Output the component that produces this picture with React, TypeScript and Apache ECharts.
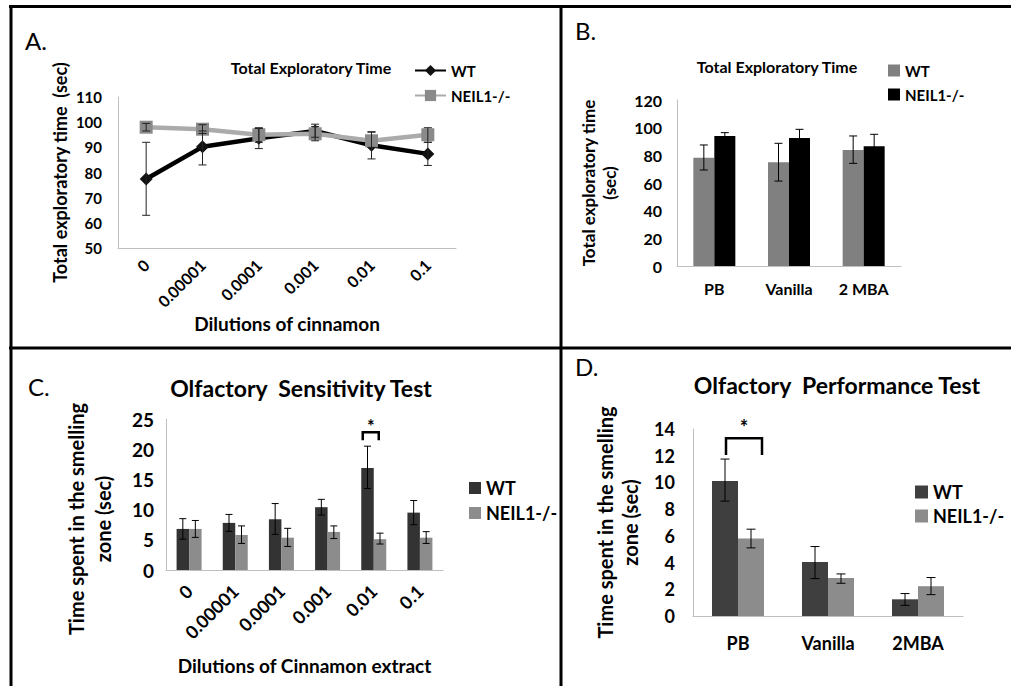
import React, { useEffect, useRef } from 'react';
import * as echarts from 'echarts';

const FONT = 'Lato';

// ---- Panel A: Total Exploratory Time (line) ----
const catsA = ['0', '0.00001', '0.0001', '0.001', '0.01', '0.1'];
const wtA = [77.4, 90.2, 93.6, 96.5, 90.8, 87.4];
const wtALow = [63, 83, 89.5, 94, 85.4, 82.8];
const wtAHigh = [92, 96.5, 97.5, 99.2, 96.2, 92];
const neilA = [98, 97.2, 95, 95.4, 92.6, 95];
const neilALow = [96.5, 95.5, 92, 92.6, 90, 92];
const neilAHigh = [99.5, 99, 97.8, 98.3, 96, 97.8];

// ---- Panel B: Total Exploratory Time (bars) ----
const catsB = ['PB', 'Vanilla', '2 MBA'];
const wtB = [78.3, 75, 83.9];
const wtBLow = [69.4, 61.4, 74.2];
const wtBHigh = [87.5, 88.7, 94];
const neilB = [94, 92.6, 86.6];
const neilBLow = [91.6, 86.4, 78];
const neilBHigh = [96.4, 98.8, 95.2];

// ---- Panel C: Olfactory Sensitivity Test ----
const catsC = ['0', '0.00001', '0.0001', '0.001', '0.01', '0.1'];
const wtC = [6.8, 7.8, 8.4, 10.4, 16.9, 9.5];
const wtCLow = [5.1, 6.4, 5.9, 9.1, 13.5, 7.5];
const wtCHigh = [8.5, 9.2, 11, 11.7, 20.5, 11.5];
const neilC = [6.8, 5.8, 5.35, 6.3, 5.1, 5.35];
const neilCLow = [5.4, 4.4, 3.9, 5.2, 4.3, 4.4];
const neilCHigh = [8.2, 7.3, 6.9, 7.3, 6.1, 6.35];
const bracketC = [[4, 22.8, 21.5, 23.8]]; // [category, top, bottom, star]

// ---- Panel D: Olfactory Performance Test ----
const catsD = ['PB', 'Vanilla', '2MBA'];
const wtD = [10.1, 4.05, 1.25];
const wtDLow = [8.6, 2.8, 0.8];
const wtDHigh = [11.75, 5.2, 1.68];
const neilD = [5.8, 2.85, 2.23];
const neilDLow = [5.1, 2.45, 1.6];
const neilDHigh = [6.5, 3.15, 2.88];
const bracketD = [[0, 13.3, 12.05, 14.15]];

const errData = (lo: number[], hi: number[]) => lo.map((l, i) => [i, l, hi[i]]);

function errSeries(name: string, gi: number, lo: number[], hi: number[], offset: number, cap: number, color = '#000') {
  return {
    type: 'custom',
    name,
    xAxisIndex: gi,
    yAxisIndex: gi,
    z: 5,
    encode: { x: 0, y: [1, 2] },
    data: errData(lo, hi),
    renderItem: (params: any, api: any) => {
      const c = api.value(0);
      const a = api.coord([c, api.value(1)]);
      const b = api.coord([c, api.value(2)]);
      const x = a[0] + offset;
      const st = { stroke: color, lineWidth: 1 };
      return {
        type: 'group',
        children: [
          { type: 'line', shape: { x1: x, y1: a[1], x2: x, y2: b[1] }, style: st },
          { type: 'line', shape: { x1: x - cap / 2, y1: a[1], x2: x + cap / 2, y2: a[1] }, style: st },
          { type: 'line', shape: { x1: x - cap / 2, y1: b[1], x2: x + cap / 2, y2: b[1] }, style: st },
        ],
      };
    },
  };
}

function bracketSeries(gi: number, data: number[][], lOff: number, rOff: number, starSize: number) {
  return {
    type: 'custom',
    name: 'sig' + gi,
    xAxisIndex: gi,
    yAxisIndex: gi,
    z: 6,
    encode: { x: 0, y: [1, 2, 3] },
    data,
    renderItem: (params: any, api: any) => {
      const c = api.value(0);
      const t = api.coord([c, api.value(1)]);
      const bt = api.coord([c, api.value(2)]);
      const s = api.coord([c, api.value(3)]);
      const xl = t[0] + lOff;
      const xr = t[0] + rOff;
      return {
        type: 'group',
        children: [
          {
            type: 'polyline',
            shape: { points: [[xl, bt[1]], [xl, t[1]], [xr, t[1]], [xr, bt[1]]] },
            style: { stroke: '#000', lineWidth: 2.5, fill: null },
          },
          {
            type: 'text',
            style: {
              text: '*', x: (xl + xr) / 2, y: s[1], align: 'center', verticalAlign: 'middle',
              font: `bold ${starSize}px ${FONT}`, fill: '#000',
            },
          },
        ],
      };
    },
  };
}

const strip = (n: string) => n.split('#')[0];

export default function App() {
  const ref = useRef<HTMLDivElement>(null);
  useEffect(() => {
    const chart = echarts.init(ref.current!, undefined, { renderer: 'svg' });
    const axisLine = { show: true, lineStyle: { color: '#bfbfbf', width: 1 } };
    const yAx = (gi: number, min: number, max: number, interval: number, fs: number, margin: number, name: string, nameGap: number, nfs: number, lh: number) => ({
      type: 'value', gridIndex: gi, min, max, interval,
      splitLine: { show: false }, axisLine, axisTick: { show: false },
      axisLabel: { color: '#000', fontWeight: 'bold', fontSize: fs, fontFamily: FONT, margin },
      name, nameLocation: 'middle', nameRotate: 90, nameGap,
      nameTextStyle: { color: '#000', fontWeight: 'bold', fontSize: nfs, fontFamily: FONT, lineHeight: lh },
    });
    const xAx = (gi: number, data: string[], fs: number, rotate: number, margin: number, name = '', nameGap = 0, nfs = 18) => ({
      type: 'category', gridIndex: gi, data,
      axisLine, axisTick: { show: false },
      axisLabel: { color: '#000', fontWeight: 'bold', fontSize: fs, fontFamily: FONT, rotate, margin, interval: 0 },
      name, nameLocation: 'middle', nameGap,
      nameTextStyle: { color: '#000', fontWeight: 'bold', fontSize: nfs, fontFamily: FONT },
    });
    const legendText = (fs: number) => ({ color: '#000', fontWeight: 'bold', fontSize: fs, fontFamily: FONT });
    const titleStyle = (fs: number) => ({ fontSize: fs, fontWeight: 'bold', color: '#000', fontFamily: FONT });

    const option: any = {
      animation: false,
      backgroundColor: '#fff',
      textStyle: { fontFamily: FONT },
      title: [
        { text: 'Total Exploratory Time', left: 306, top: 54, textAlign: 'center', textStyle: titleStyle(16) },
        { text: 'Total Exploratory Time', left: 772, top: 53, textAlign: 'center', textStyle: titleStyle(16) },
        { text: 'Olfactory  Sensitivity Test', left: 296, top: 371, textAlign: 'center', textStyle: titleStyle(23) },
        { text: 'Olfactory  Performance Test', left: 832, top: 368, textAlign: 'center', textStyle: titleStyle(23) },
      ],
      legend: [
        { orient: 'vertical', left: 409, top: 58, selectedMode: false, itemWidth: 31, itemHeight: 14, itemGap: 10, textStyle: legendText(15), formatter: strip, data: ['WT#A', 'NEIL1-/-#A'] },
        { orient: 'vertical', left: 883, top: 58, selectedMode: false, icon: 'rect', itemWidth: 12, itemHeight: 12, itemGap: 9, textStyle: legendText(15), formatter: strip, data: ['WT#B', 'NEIL1-/-#B'] },
        { orient: 'vertical', left: 464, top: 474, selectedMode: false, icon: 'rect', itemWidth: 12, itemHeight: 12, itemGap: 7, textStyle: legendText(18), formatter: strip, data: ['WT#C', 'NEIL1-/-#C'] },
        { orient: 'vertical', left: 910, top: 478, selectedMode: false, icon: 'rect', itemWidth: 13, itemHeight: 13, itemGap: 6, textStyle: legendText(18), formatter: strip, data: ['WT#D', 'NEIL1-/-#D'] },
      ],
      grid: [
        { left: 118, top: 97, width: 338, height: 151 },
        { left: 677, top: 100, width: 224, height: 166 },
        { left: 166, top: 419, width: 277, height: 151 },
        { left: 693, top: 429, width: 270, height: 187 },
      ],
      xAxis: [
        xAx(0, catsA, 16, 45, 14, 'Dilutions of cinnamon', 66, 19),
        xAx(1, catsB, 16, 0, 14),
        xAx(2, catsC, 18, 45, 18, 'Dilutions of Cinnamon extract', 86, 19),
        xAx(3, catsD, 18, 0, 18),
      ],
      yAxis: [
        yAx(0, 50, 110, 10, 15, 16, 'Total exploratory time  (sec)', 47, 18, 22),
        yAx(1, 0, 120, 20, 16, 15, 'Total exploratory time\n(sec)', 57, 17, 21),
        yAx(2, 0, 25, 5, 19, 12, '', 0, 20, 27),
        yAx(3, 0, 14, 2, 18, 18, 'Time spent in the smelling\nzone (sec)', 51, 20, 25),
      ],
      graphic: [
        { type: 'line', shape: { x1: 9, y1: 6.5, x2: 1011, y2: 6.5 }, style: { stroke: '#000', lineWidth: 3 } },
        { type: 'line', shape: { x1: 11, y1: 5, x2: 11, y2: 686 }, style: { stroke: '#000', lineWidth: 3 } },
        { type: 'line', shape: { x1: 561, y1: 5, x2: 561, y2: 686 }, style: { stroke: '#000', lineWidth: 3 } },
        { type: 'line', shape: { x1: 9, y1: 348, x2: 1011, y2: 348 }, style: { stroke: '#000', lineWidth: 3 } },
        { type: 'text', left: 25, top: 28, style: { text: 'A.', font: `24px ${FONT}`, fill: '#000' } },
        { type: 'text', left: 575, top: 18, style: { text: 'B.', font: `24px ${FONT}`, fill: '#000' } },
        { type: 'text', left: 28, top: 374, style: { text: 'C.', font: `24px ${FONT}`, fill: '#000' } },
        { type: 'text', left: 575, top: 354, style: { text: 'D.', font: `24px ${FONT}`, fill: '#000' } },
        {
          type: 'text', x: 89, y: 519, rotation: Math.PI / 2,
          style: {
            text: 'Time spent in the smelling\nzone (sec)', x: 0, y: 0, align: 'center', verticalAlign: 'middle',
            font: `bold 20px ${FONT}`, lineHeight: 27, fill: '#000',
          },
        },
      ],
      series: [
        // A
        { type: 'line', name: 'WT#A', xAxisIndex: 0, yAxisIndex: 0, data: wtA, symbol: 'diamond', symbolSize: 13, itemStyle: { color: '#111' }, lineStyle: { color: '#000', width: 4.5 }, z: 3 },
        { type: 'line', name: 'NEIL1-/-#A', xAxisIndex: 0, yAxisIndex: 0, data: neilA, symbol: 'rect', symbolSize: 13, itemStyle: { color: '#8a8a8a' }, lineStyle: { color: '#ababab', width: 4.5 }, z: 4 },
        errSeries('eWT#A', 0, wtALow, wtAHigh, 0, 8, '#222'),
        errSeries('eN#A', 0, neilALow, neilAHigh, 0, 8, '#222'),
        // B
        { type: 'bar', name: 'WT#B', xAxisIndex: 1, yAxisIndex: 1, data: wtB, barWidth: 21, barGap: '0%', itemStyle: { color: '#808080' } },
        { type: 'bar', name: 'NEIL1-/-#B', xAxisIndex: 1, yAxisIndex: 1, data: neilB, barWidth: 21, barGap: '0%', itemStyle: { color: '#000' } },
        errSeries('eWT#B', 1, wtBLow, wtBHigh, -10.5, 8),
        errSeries('eN#B', 1, neilBLow, neilBHigh, 10.5, 8),
        // C
        { type: 'bar', name: 'WT#C', xAxisIndex: 2, yAxisIndex: 2, data: wtC, barWidth: 12.5, barGap: '0%', itemStyle: { color: '#333333' } },
        { type: 'bar', name: 'NEIL1-/-#C', xAxisIndex: 2, yAxisIndex: 2, data: neilC, barWidth: 12.5, barGap: '0%', itemStyle: { color: '#8c8c8c' } },
        errSeries('eWT#C', 2, wtCLow, wtCHigh, -6.25, 7),
        errSeries('eN#C', 2, neilCLow, neilCHigh, 6.25, 7),
        bracketSeries(2, bracketC, -11, 5, 18),
        // D
        { type: 'bar', name: 'WT#D', xAxisIndex: 3, yAxisIndex: 3, data: wtD, barWidth: 26, barGap: '0%', itemStyle: { color: '#3f3f3f' } },
        { type: 'bar', name: 'NEIL1-/-#D', xAxisIndex: 3, yAxisIndex: 3, data: neilD, barWidth: 26, barGap: '0%', itemStyle: { color: '#8c8c8c' } },
        errSeries('eWT#D', 3, wtDLow, wtDHigh, -13, 9),
        errSeries('eN#D', 3, neilDLow, neilDHigh, 13, 9),
        bracketSeries(3, bracketD, -12, 24, 20),
      ],
    };
    chart.setOption(option);
    return () => chart.dispose();
  }, []);
  return <div ref={ref} style={{ position: 'absolute', left: 0, top: 0, width: 1011, height: 686, background: '#fff' }} />;
}
